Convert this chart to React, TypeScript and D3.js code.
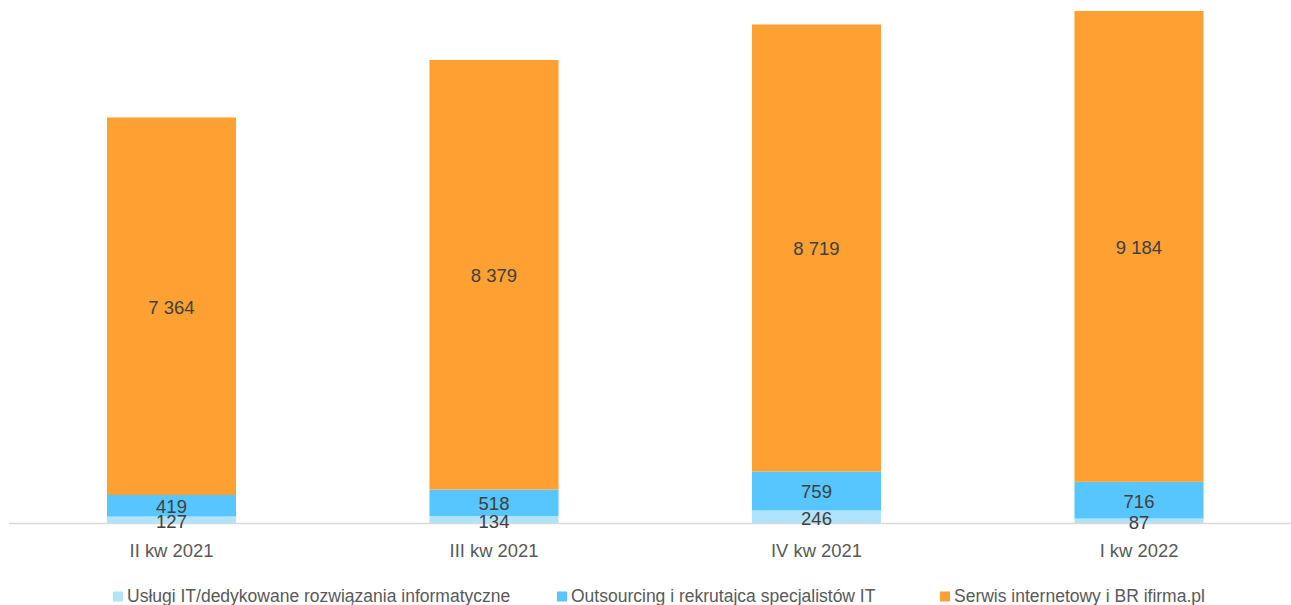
import React from "react";
import * as d3 from "d3";

const categories = ["II kw 2021", "III kw 2021", "IV kw 2021", "I kw 2022"];
const seriesNames = [
  "Usługi IT/dedykowane rozwiązania informatyczne",
  "Outsourcing i rekrutajca specjalistów IT",
  "Serwis internetowy i BR ifirma.pl",
];
const uslugiIT = [127, 134, 246, 87];
const outsourcing = [419, 518, 759, 716];
const serwis = [7364, 8379, 8719, 9184];
const colors = ["#B0E3FC", "#57C5FE", "#FFA033"];

const W = 1291;
const H = 605;

const fmt = (v: number) => {
  const s = String(v);
  return s.length > 3 ? s.slice(0, s.length - 3) + " " + s.slice(-3) : s;
};

export default function App() {
  const x = d3
    .scaleBand<string>()
    .domain(categories)
    .range([10.25, 1300.25])
    .paddingInner(0.6)
    .paddingOuter(0.3);
  const y = d3.scaleLinear().domain([0, 10000]).range([523, 10.3]);

  const rows = categories.map((c, i) => ({
    cat: c,
    s0: uslugiIT[i],
    s1: outsourcing[i],
    s2: serwis[i],
  }));
  const stack = d3.stack<any>().keys(["s0", "s1", "s2"])(rows);

  const legendX = [113, 557, 940];

  return (
    <svg
      width={W}
      height={H}
      style={{ position: "absolute", left: 0, top: 0, display: "block" }}
      fontFamily="'Liberation Sans', Arial, sans-serif"
    >
      <rect width={W} height={H} fill="#fff" />
      {stack.map((layer, li) =>
        layer.map((d, i) => (
          <rect
            key={`${li}-${i}`}
            x={x(categories[i])}
            width={x.bandwidth()}
            y={y(d[1])}
            height={y(d[0]) - y(d[1])}
            fill={colors[li]}
          />
        ))
      )}
      <line x1={9} x2={1291} y1={523.5} y2={523.5} stroke="#d9d9d9" strokeWidth={1.5} />
      {stack.map((layer, li) =>
        layer.map((d, i) => (
          <text
            key={`l${li}-${i}`}
            x={(x(categories[i]) as number) + x.bandwidth() / 2}
            y={(y(d[0]) + y(d[1])) / 2 + (li === 0 ? 1.5 : 1)}
            dy="0.35em"
            textAnchor="middle"
            fontSize={18.5}
            fill="#404040"
          >
            {fmt(d[1] - d[0])}
          </text>
        ))
      )}
      {categories.map((c) => (
        <text
          key={c}
          x={(x(c) as number) + x.bandwidth() / 2}
          y={557}
          textAnchor="middle"
          fontSize={18.4}
          fill="#595959"
        >
          {c}
        </text>
      ))}
      {seriesNames.map((n, i) => (
        <g key={n} transform={`translate(${legendX[i]},0)`}>
          <rect x={0} y={591.5} width={10} height={10} fill={colors[i]} />
          <text x={14} y={602} fontSize={17.5} fill="#595959">
            {n}
          </text>
        </g>
      ))}
    </svg>
  );
}
